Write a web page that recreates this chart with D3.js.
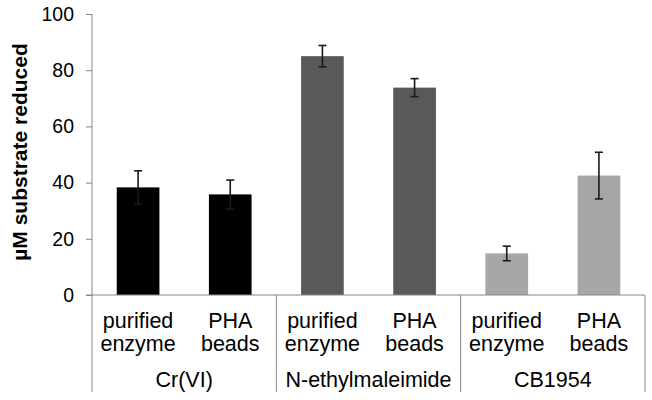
<!DOCTYPE html>
<html>
<head>
<meta charset="utf-8">
<script src="https://cdn.jsdelivr.net/npm/d3@7"></script>
<style>
  html, body { margin: 0; padding: 0; background: #fff; }
  svg { display: block; }
  text { font-family: "Liberation Sans", Arial, sans-serif; fill: #000; }
</style>
</head>
<body>
<svg id="chart" width="652" height="400"></svg>
<script>
// ---- data ----
const groups = ["Cr(VI)", "N-ethylmaleimide", "CB1954"];
const conditions = ["purified enzyme", "PHA beads"];
const conditionLines = [["purified", "enzyme"], ["PHA", "beads"]];
const values = [38.3, 35.8, 85.0, 73.8, 14.8, 42.5];
const errors = [5.9, 5.1, 3.8, 3.2, 2.6, 8.3];
const groupColors = ["#000000", "#595959", "#a6a6a6"];
const yTicks = [0, 20, 40, 60, 80, 100];
const yTitle = "µM substrate reduced";

const bars = [];
groups.forEach((g, gi) => conditions.forEach((c, ci) => {
  const i = gi * conditions.length + ci;
  bars.push({ key: g + "|" + c, group: g, gi, ci, value: values[i], err: errors[i] });
}));

// ---- layout ----
const svg = d3.select("#chart");
const mLeft = 92, mRight = 645, mTop = 14, mBottom = 295, sepBottom = 392;
const axisColor = "#868686";

const y = d3.scaleLinear().domain([0, 100]).range([mBottom, mTop]);
const pad = 0.537;
const x = d3.scaleBand().domain(bars.map(d => d.key)).range([mLeft, mRight])
  .paddingInner(pad).paddingOuter(pad / 2);
const xg = d3.scaleBand().domain(groups).range([mLeft, mRight]).padding(0);

// y axis
const yAxis = d3.axisLeft(y).tickValues(yTicks).tickSize(6).tickPadding(12).tickFormat(d3.format("d"));
const gy = svg.append("g").attr("transform", `translate(${mLeft},0)`).call(yAxis);
gy.select(".domain").remove();
gy.selectAll(".tick line").attr("stroke", axisColor).attr("stroke-width", 1);
gy.selectAll(".tick text").attr("font-size", 19.5).attr("font-family", "Liberation Sans, Arial, sans-serif").attr("fill", "#000");
svg.append("line").attr("x1", mLeft).attr("x2", mLeft).attr("y1", mTop).attr("y2", sepBottom)
  .attr("stroke", axisColor).attr("stroke-width", 1);

// bars
svg.append("g").selectAll("rect").data(bars).join("rect")
  .attr("x", d => x(d.key)).attr("width", x.bandwidth())
  .attr("y", d => y(d.value)).attr("height", d => y(0) - y(d.value))
  .attr("fill", d => groupColors[d.gi]);

// error bars
const eg = svg.append("g").attr("stroke", "#1a1a1a").attr("stroke-width", 1.6);
bars.forEach(d => {
  const cx = x(d.key) + x.bandwidth() / 2;
  const hi = y(d.value + d.err), lo = y(d.value - d.err);
  eg.append("line").attr("x1", cx).attr("x2", cx).attr("y1", hi).attr("y2", lo);
  eg.append("line").attr("x1", cx - 4).attr("x2", cx + 4).attr("y1", hi).attr("y2", hi);
  eg.append("line").attr("x1", cx - 4).attr("x2", cx + 4).attr("y1", lo).attr("y2", lo);
});

// x axis baseline
svg.append("line").attr("x1", mLeft - 6).attr("x2", mRight).attr("y1", mBottom).attr("y2", mBottom)
  .attr("stroke", axisColor).attr("stroke-width", 1);

// group separators
groups.forEach(g => {
  const xe = xg(g) + xg.bandwidth();
  svg.append("line").attr("x1", xe).attr("x2", xe).attr("y1", mBottom).attr("y2", sepBottom)
    .attr("stroke", axisColor).attr("stroke-width", 1);
});

// condition labels
const lab = svg.append("g").attr("font-size", 21.5).attr("text-anchor", "middle");
bars.forEach(d => {
  const cx = x(d.key) + x.bandwidth() / 2;
  const t = lab.append("text").attr("x", cx).attr("y", 328);
  conditionLines[d.ci].forEach((ln, li) => {
    t.append("tspan").attr("x", cx).attr("dy", li === 0 ? 0 : 23).text(ln);
  });
});

// group labels
svg.append("g").attr("font-size", 21.5).attr("text-anchor", "middle")
  .selectAll("text").data(groups).join("text")
  .attr("x", g => xg(g) + xg.bandwidth() / 2).attr("y", 387).text(g => g);

// y title
svg.append("text").attr("transform", "translate(27,152) rotate(-90)")
  .attr("text-anchor", "middle").attr("font-size", 21).attr("font-weight", "bold")
  .text(yTitle);
</script>
</body>
</html>
